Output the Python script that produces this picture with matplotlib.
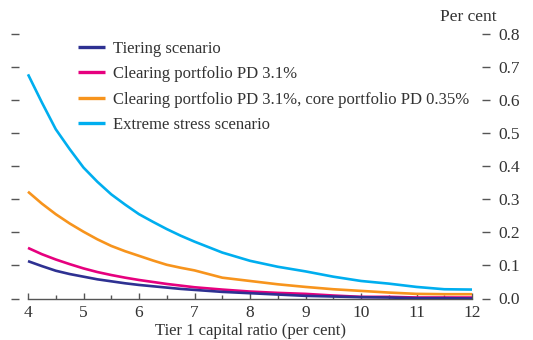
import matplotlib.pyplot as plt
from matplotlib.ticker import MultipleLocator

# Tier 1 capital ratio (per cent)
tier1 = [4.0, 4.25, 4.5, 4.75, 5.0, 5.25, 5.5, 5.75, 6.0, 6.25, 6.5, 6.75, 7.0,
         7.5, 8.0, 8.5, 9.0, 9.5, 10.0, 10.5, 11.0, 11.5, 12.0]

tiering = [0.113, 0.098, 0.084, 0.074, 0.066, 0.058, 0.052, 0.046, 0.041, 0.037,
           0.033, 0.029, 0.026, 0.020, 0.016, 0.012, 0.008, 0.006, 0.004, 0.003,
           0.001, 0.001, 0.000]
clearing = [0.153, 0.134, 0.118, 0.104, 0.091, 0.080, 0.071, 0.063, 0.056, 0.050,
            0.044, 0.039, 0.034, 0.027, 0.021, 0.017, 0.014, 0.009, 0.005, 0.005,
            0.003, 0.003, 0.003]
clearing_core = [0.323, 0.287, 0.255, 0.227, 0.202, 0.179, 0.159, 0.143, 0.129,
                 0.115, 0.102, 0.093, 0.085, 0.063, 0.053, 0.043, 0.035, 0.028,
                 0.023, 0.018, 0.014, 0.013, 0.013]
extreme = [0.678, 0.593, 0.512, 0.452, 0.396, 0.353, 0.315, 0.284, 0.255, 0.232,
           0.210, 0.190, 0.172, 0.139, 0.114, 0.096, 0.082, 0.066, 0.053, 0.045,
           0.035, 0.028, 0.027]

labels = ['Tiering scenario',
          'Clearing portfolio PD 3.1%',
          'Clearing portfolio PD 3.1%, core portfolio PD 0.35%',
          'Extreme stress scenario']
colors = ['#2e3192', '#e6007e', '#f7941d', '#00aeef']

yticks = [0.0, 0.1, 0.2, 0.3, 0.4, 0.5, 0.6, 0.7, 0.8]

plt.rcParams['font.family'] = ['Liberation Serif', 'DejaVu Serif']
TXT = '#333333'
AX = '#555555'

fig = plt.figure(figsize=(5.33, 3.4), dpi=100)
L, R = 11, 490          # axes edges in px
ax = fig.add_axes([L / 533, 1 - 298.5 / 340, (R - L) / 533, 264.5 / 340])

# lower series drawn on top, legend order kept
series = [tiering, clearing, clearing_core, extreme]
for ys, lab, c, z in zip(series, labels, colors, [5, 4, 3, 2]):
    ax.plot(tier1, ys, color=c, lw=1.9, label=lab, zorder=z,
            solid_capstyle='butt')

ax.set_xlim(4 - (28 - L) / 55.5, 12 + (R - 472) / 55.5)
ax.set_ylim(0, 0.8)

for s in ('top', 'left', 'right'):
    ax.spines[s].set_visible(False)
ax.spines['bottom'].set_bounds(4, 12)
ax.spines['bottom'].set_color(AX)
ax.spines['bottom'].set_linewidth(1.0)

ax.set_xticks(range(4, 13))
ax.xaxis.set_minor_locator(MultipleLocator(0.5))
ax.tick_params(axis='x', which='major', direction='in', length=4, width=1,
               color=AX, labelsize=12.5, labelcolor=TXT, pad=5)
ax.tick_params(axis='x', which='minor', direction='in', length=3, width=1,
               color=AX)

ax.set_yticks(yticks)
ax.set_yticklabels([f'{v:.1f}' for v in yticks])
ax.tick_params(axis='y', which='major', direction='in', length=6, width=1,
               color=AX, left=True, right=True, labelleft=False,
               labelright=True, labelsize=12.5, labelcolor=TXT, pad=6)

ax.set_xlabel('Tier 1 capital ratio (per cent)', fontsize=12, color=TXT,
              labelpad=1)
fig.text(497 / 533, 1 - 25 / 340, 'Per cent', ha='right', va='bottom',
         fontsize=12.5, color=TXT)

leg = ax.legend(loc='upper left', bbox_to_anchor=(78 / 533, 1 - 41 / 340),
                bbox_transform=fig.transFigure, frameon=False, fontsize=12,
                handlelength=1.6, handletextpad=0.5, labelspacing=0.56,
                borderaxespad=0, borderpad=0)
for t in leg.get_texts():
    t.set_color(TXT)
for h in leg.legend_handles:
    h.set_linewidth(2.4)

fig.savefig('out.png', dpi=100)
